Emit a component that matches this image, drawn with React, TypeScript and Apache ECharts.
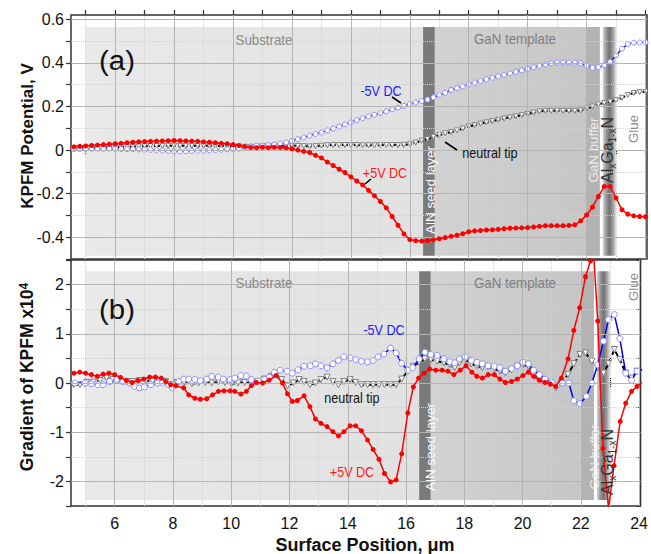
import React, { useEffect, useRef } from 'react';
import * as echarts from 'echarts';

const FONT = '"Liberation Sans", Arial, Helvetica, sans-serif';

// ---------- axes ----------
const xTicks = [5, 6, 7, 8, 9, 10, 11, 12, 13, 14, 15, 16, 17, 18, 19, 20, 21, 22, 23, 24];
const xLabels = [6, 8, 10, 12, 14, 16, 18, 20, 22, 24];
const xMinorGrid = [5, 7, 9, 11, 13, 15, 17, 19, 21, 23];
const yTopTicks = [-0.5, -0.4, -0.3, -0.2, -0.1, 0, 0.1, 0.2, 0.3, 0.4, 0.5, 0.6];
const yTopLabels = [-0.4, -0.2, 0, 0.2, 0.4, 0.6];
const yTopMinorGrid = [-0.3, -0.1, 0.1, 0.3, 0.5];
const yBotTicks = [-2.5, -2, -1.5, -1, -0.5, 0, 0.5, 1, 1.5, 2, 2.5];
const yBotLabels = [-2, -1, 0, 1, 2];
const yBotMinorGrid = [-1.5, -0.5, 0.5, 1.5];

// ---------- layers ----------
const layerStart = [5.0, 16.45, 16.85, 22.0, 22.55];
const layerEnd = [16.45, 16.85, 22.0, 22.45, 23.0];
const topBand = [-0.485, 0.565];
const botBand = [-2.38, 2.27];

// ---------- panel (a): KPFM potential ----------
const xTop = [4.6, 4.8, 5.0, 5.2, 5.4, 5.6, 5.8, 6.0, 6.2, 6.4, 6.6, 6.8, 7.0, 7.2, 7.4, 7.6, 7.8, 8.0, 8.2, 8.4, 8.6, 8.8, 9.0, 9.2, 9.4, 9.6, 9.8, 10.0, 10.2, 10.4, 10.6, 10.8, 11.0, 11.2, 11.4, 11.6, 11.8, 12.0, 12.2, 12.4, 12.6, 12.8, 13.0, 13.2, 13.4, 13.6, 13.8, 14.0, 14.2, 14.4, 14.6, 14.8, 15.0, 15.2, 15.4, 15.6, 15.8, 16.0, 16.2, 16.4, 16.6, 16.8, 17.0, 17.2, 17.4, 17.6, 17.8, 18.0, 18.2, 18.4, 18.6, 18.8, 19.0, 19.2, 19.4, 19.6, 19.8, 20.0, 20.2, 20.4, 20.6, 20.8, 21.0, 21.2, 21.4, 21.6, 21.8, 22.0, 22.2, 22.4, 22.6, 22.8, 23.0, 23.2, 23.4, 23.6, 23.8, 24.0];
const redTop = [0.015, 0.017, 0.019, 0.021, 0.023, 0.025, 0.027, 0.029, 0.031, 0.034, 0.036, 0.038, 0.039, 0.040, 0.041, 0.042, 0.043, 0.044, 0.043, 0.042, 0.041, 0.040, 0.038, 0.036, 0.034, 0.031, 0.029, 0.025, 0.021, 0.016, 0.012, 0.011, 0.013, 0.011, 0.013, 0.012, 0.010, 0.006, 0.0, -0.006, -0.011, -0.024, -0.036, -0.055, -0.071, -0.088, -0.103, -0.123, -0.142, -0.160, -0.185, -0.210, -0.236, -0.265, -0.305, -0.345, -0.385, -0.411, -0.416, -0.418, -0.416, -0.412, -0.407, -0.402, -0.396, -0.391, -0.384, -0.375, -0.371, -0.369, -0.367, -0.366, -0.364, -0.361, -0.359, -0.358, -0.357, -0.356, -0.353, -0.350, -0.347, -0.347, -0.347, -0.347, -0.346, -0.343, -0.325, -0.298, -0.262, -0.213, -0.167, -0.167, -0.220, -0.274, -0.294, -0.302, -0.305, -0.306];
const blueTop = [0.005, 0.005, 0.006, 0.006, 0.007, 0.007, 0.007, 0.006, 0.005, 0.004, 0.004, 0.003, 0.002, 0.001, 0.000, -0.002, -0.004, -0.006, -0.006, -0.005, -0.004, -0.003, -0.002, -0.001, 0.000, 0.002, 0.003, 0.005, 0.007, 0.011, 0.016, 0.020, 0.021, 0.023, 0.026, 0.030, 0.035, 0.042, 0.050, 0.058, 0.066, 0.074, 0.081, 0.090, 0.099, 0.108, 0.118, 0.127, 0.137, 0.146, 0.154, 0.162, 0.170, 0.178, 0.187, 0.195, 0.203, 0.211, 0.218, 0.225, 0.232, 0.242, 0.253, 0.263, 0.276, 0.284, 0.292, 0.302, 0.310, 0.317, 0.325, 0.332, 0.339, 0.345, 0.352, 0.359, 0.366, 0.373, 0.380, 0.387, 0.393, 0.398, 0.401, 0.402, 0.402, 0.401, 0.398, 0.387, 0.378, 0.380, 0.390, 0.405, 0.435, 0.465, 0.487, 0.493, 0.494, 0.494];
const blackTop = [0.008, 0.009, 0.010, 0.011, 0.011, 0.012, 0.012, 0.013, 0.014, 0.015, 0.016, 0.017, 0.018, 0.019, 0.019, 0.020, 0.020, 0.020, 0.020, 0.020, 0.020, 0.020, 0.020, 0.020, 0.019, 0.019, 0.018, 0.017, 0.016, 0.015, 0.015, 0.016, 0.018, 0.019, 0.020, 0.020, 0.020, 0.020, 0.019, 0.018, 0.017, 0.018, 0.020, 0.022, 0.023, 0.023, 0.023, 0.023, 0.023, 0.022, 0.022, 0.022, 0.023, 0.023, 0.023, 0.023, 0.024, 0.027, 0.034, 0.043, 0.051, 0.061, 0.069, 0.077, 0.083, 0.090, 0.099, 0.108, 0.114, 0.121, 0.127, 0.133, 0.139, 0.145, 0.150, 0.155, 0.160, 0.166, 0.172, 0.177, 0.180, 0.180, 0.180, 0.180, 0.180, 0.180, 0.182, 0.190, 0.200, 0.209, 0.216, 0.222, 0.229, 0.240, 0.253, 0.262, 0.266, 0.267];

// ---------- panel (b): gradient of KPFM ----------
const redBotX = [4.6, 4.8, 5.0, 5.2, 5.4, 5.6, 5.8, 6.0, 6.2, 6.4, 6.6, 6.8, 7.0, 7.2, 7.4, 7.6, 7.75, 7.92, 8.1, 8.37, 8.54, 8.75, 8.94, 9.16, 9.36, 9.56, 9.75, 9.96, 10.12, 10.33, 10.52, 10.69, 10.86, 11.08, 11.3, 11.54, 11.76, 11.93, 12.1, 12.27, 12.5, 12.7, 12.89, 13.08, 13.29, 13.49, 13.68, 13.87, 14.08, 14.27, 14.47, 14.68, 14.87, 15.07, 15.26, 15.47, 15.66, 15.85, 16.06, 16.25, 16.43, 16.62, 16.81, 17.02, 17.24, 17.44, 17.64, 17.86, 18.06, 18.26, 18.43, 18.62, 18.82, 19.03, 19.22, 19.41, 19.62, 19.82, 20.01, 20.2, 20.38, 20.58, 20.77, 20.95, 21.14, 21.33, 21.56, 21.76, 21.96, 22.16, 22.33, 22.42, 22.58, 22.76, 22.95, 23.14, 23.35, 23.54, 23.74, 23.93, 24.1];
const redBotY = [0.20, 0.22, 0.20, 0.17, 0.135, 0.18, 0.20, 0.17, 0.115, 0.05, 0.01, 0.05, 0.08, 0.12, 0.12, 0.10, 0.03, -0.035, -0.055, -0.10, -0.24, -0.31, -0.33, -0.32, -0.24, -0.17, -0.16, -0.16, -0.17, -0.225, -0.17, -0.055, 0.01, 0.0, 0.06, 0.15, 0.0, -0.22, -0.375, -0.355, -0.26, -0.48, -0.73, -0.82, -0.885, -0.99, -1.075, -0.99, -0.87, -0.87, -0.97, -1.16, -1.35, -1.55, -1.84, -2.01, -1.97, -1.44, -0.61, -0.08, 0.10, 0.20, 0.285, 0.26, 0.26, 0.24, 0.17, 0.26, 0.35, 0.22, 0.135, 0.10, 0.17, 0.17, 0.08, 0.01, 0.03, 0.08, 0.15, 0.22, 0.135, 0.055, 0.01, -0.02, -0.07, 0.10, 0.49, 1.07, 1.53, 2.16, 2.48, 2.8, 1.26, -1.33, -2.55, -1.68, -0.78, -0.41, -0.17, -0.07, 0.01];
const blueBotX = [4.64, 4.98, 5.2, 5.43, 5.6, 5.83, 6.06, 6.28, 6.51, 6.68, 6.85, 7.02, 7.24, 7.47, 7.64, 7.86, 7.98, 8.2, 8.37, 8.54, 8.75, 8.94, 9.16, 9.33, 9.56, 9.73, 9.96, 10.12, 10.33, 10.52, 10.69, 10.92, 11.14, 11.31, 11.48, 11.68, 11.91, 12.1, 12.29, 12.5, 12.72, 12.89, 13.08, 13.29, 13.49, 13.68, 13.87, 14.08, 14.27, 14.47, 14.68, 14.87, 15.04, 15.24, 15.47, 15.66, 15.85, 16.06, 16.23, 16.45, 16.65, 16.85, 17.07, 17.3, 17.5, 17.67, 17.83, 18.03, 18.24, 18.43, 18.62, 18.82, 19.03, 19.22, 19.41, 19.62, 19.82, 20.01, 20.2, 20.38, 20.58, 20.77, 21.0, 21.17, 21.37, 21.59, 21.76, 21.97, 22.19, 22.38, 22.58, 22.78, 22.95, 23.15, 23.34, 23.54, 23.74, 23.93, 24.1];
const blueBotY = [0.0, 0.0, -0.015, -0.035, -0.035, 0.03, 0.07, 0.03, 0.0, -0.07, -0.10, -0.08, -0.035, 0.0, 0.01, -0.035, -0.10, 0.03, 0.08, 0.08, 0.07, 0.05, 0.08, 0.135, 0.12, 0.08, 0.07, 0.10, 0.15, 0.14, 0.07, 0.04, 0.07, 0.12, 0.215, 0.26, 0.24, 0.20, 0.27, 0.34, 0.35, 0.39, 0.35, 0.31, 0.39, 0.46, 0.53, 0.51, 0.475, 0.44, 0.43, 0.455, 0.53, 0.59, 0.71, 0.61, 0.40, 0.26, 0.31, 0.49, 0.625, 0.58, 0.56, 0.49, 0.43, 0.41, 0.49, 0.53, 0.46, 0.42, 0.39, 0.35, 0.34, 0.31, 0.24, 0.29, 0.35, 0.42, 0.39, 0.26, 0.17, 0.08, 0.01, -0.055, 0.0, 0.0, -0.36, -0.42, -0.27, 0.0, 0.37, 0.85, 1.29, 1.39, 0.90, 0.20, 0.055, 0.24, 0.27];
const blackBotX = [4.59, 4.81, 5.04, 5.27, 5.5, 5.72, 5.94, 6.17, 6.4, 6.62, 6.85, 7.07, 7.3, 7.53, 7.75, 7.92, 8.14, 8.37, 8.65, 8.88, 9.11, 9.33, 9.56, 9.79, 10.01, 10.24, 10.46, 10.69, 10.92, 11.14, 11.37, 11.54, 11.73, 11.93, 12.13, 12.33, 12.5, 12.7, 12.89, 13.08, 13.29, 13.49, 13.68, 13.87, 14.08, 14.27, 14.47, 14.68, 14.87, 15.07, 15.26, 15.47, 15.66, 15.85, 16.06, 16.25, 16.45, 16.65, 16.85, 17.07, 17.3, 17.5, 17.67, 17.83, 18.03, 18.24, 18.43, 18.62, 18.82, 19.03, 19.22, 19.41, 19.62, 19.82, 20.01, 20.2, 20.38, 20.58, 20.77, 20.95, 21.14, 21.33, 21.56, 21.76, 21.97, 22.16, 22.38, 22.58, 22.78, 22.95, 23.15, 23.34, 23.54, 23.74, 23.93, 24.1];
const blackBotY = [-0.035, -0.035, 0.01, 0.02, 0.05, 0.10, 0.07, 0.05, 0.03, 0.03, 0.05, 0.05, 0.03, 0.02, 0.03, -0.035, 0.01, 0.0, -0.015, 0.0, 0.01, 0.0, 0.03, 0.01, -0.015, 0.0, 0.01, 0.0, 0.02, 0.08, 0.135, 0.17, 0.07, -0.055, 0.0, 0.07, 0.03, -0.035, 0.0, 0.07, 0.12, 0.03, -0.035, 0.03, 0.07, 0.01, -0.035, -0.035, -0.035, -0.035, -0.035, -0.035, -0.035, 0.08, 0.24, 0.34, 0.42, 0.49, 0.475, 0.44, 0.41, 0.37, 0.31, 0.41, 0.475, 0.39, 0.35, 0.31, 0.325, 0.29, 0.24, 0.20, 0.27, 0.34, 0.37, 0.34, 0.17, 0.10, 0.03, -0.015, -0.10, 0.0, 0.17, 0.39, 0.58, 0.61, 0.44, 0.31, 0.20, 0.39, 0.68, 0.475, 0.20, 0.10, 0.24, 0.27];

const zip = (xs: number[], ys: number[]) => xs.slice(0, Math.min(xs.length, ys.length)).map((x, i) => [x, ys[i]]);

const lin = (stops: [number, string][]) => ({
  type: 'linear', x: 0, y: 0, x2: 1, y2: 0,
  colorStops: stops.map(([offset, color]) => ({ offset, color })),
});

const layerColors = () => [
  lin([[0, '#e9e9e9'], [1, '#e1e1e1']]),
  '#7a7a7a',
  lin([[0, '#d2d2d2'], [1, '#c6c6c6']]),
  '#b3b3b3',
  lin([[0, '#d8d8d8'], [0.25, '#9a9a9a'], [0.5, '#727272'], [0.75, '#9a9a9a'], [1, '#e2e2e2']]),
];

const areas = (band: number[]) => {
  const cols = layerColors();
  return layerStart.map((s, i) => [
    { xAxis: s, yAxis: band[0], itemStyle: { color: cols[i], opacity: 1, borderWidth: 0 } },
    { xAxis: layerEnd[i], yAxis: band[1] },
  ]);
};

const MAJOR = { color: '#b4b4b4', width: 1, type: 'solid' };
const MINOR = { color: '#d2d2d2', width: 1, type: 'dotted' };

const gridLines = (yMajor: number[], yMinor: number[]) => [
  ...xMinorGrid.map((v) => ({ xAxis: v, lineStyle: MINOR })),
  ...yMinor.map((v) => ({ yAxis: v, lineStyle: MINOR })),
  ...xLabels.map((v) => ({ xAxis: v, lineStyle: MAJOR })),
  ...yMajor.map((v) => ({ yAxis: v, lineStyle: MAJOR })),
];

const tickStyle = { show: true, inside: false, length: 5, lineStyle: { color: '#333', width: 1.2 } };

const xAxisBase = (gridIndex: number, position: string, labels: boolean) => ({
  type: 'value', gridIndex, position, min: 4.5, max: 24.05,
  axisLine: { show: false },
  axisTick: { ...tickStyle, customValues: xTicks },
  axisLabel: labels
    ? { show: true, customValues: xLabels, fontSize: 16, color: '#111', fontFamily: FONT, margin: 9 }
    : { show: false },
  splitLine: { show: false },
});

const fmtTop = (v: number) => (Math.abs(v) < 1e-9 ? '0' : v.toFixed(1));

const seriesFor = (xi: number, yi: number, red: number[][], blue: number[][], black: number[][], big: boolean) => [
  { type: 'line', xAxisIndex: xi, yAxisIndex: yi, data: [], z: 1, silent: true,
    markArea: { silent: true, data: areas(xi === 0 ? topBand : botBand) } },
  { type: 'line', xAxisIndex: xi, yAxisIndex: yi, data: [], z: 2, silent: true,
    markLine: { silent: true, symbol: ['none', 'none'], label: { show: false },
      data: xi === 0 ? gridLines(yTopLabels, yTopMinorGrid) : gridLines(yBotLabels, yBotMinorGrid) } },
  { type: 'line', xAxisIndex: xi, yAxisIndex: yi, data: black, z: 3,
    symbol: 'triangle', symbolRotate: 180, symbolSize: big ? 6 : 5,
    itemStyle: { color: '#ffffff', borderColor: '#808080', borderWidth: 1 },
    lineStyle: { color: '#000000', width: 2, type: big ? [5, 3] : [2, 2] } },
  { type: 'line', xAxisIndex: xi, yAxisIndex: yi, data: blue, z: 4,
    symbol: 'circle', symbolSize: big ? 6 : 5,
    itemStyle: { color: '#ffffff', borderColor: '#8c8cff', borderWidth: 1 },
    lineStyle: { color: '#0000ee', width: big ? 1.5 : 1.2 } },
  { type: 'line', xAxisIndex: xi, yAxisIndex: yi, data: red, z: 5,
    symbol: 'circle', symbolSize: 5,
    itemStyle: { color: '#ff0000' },
    lineStyle: { color: '#ff0000', width: 1.5 } },
];

const T = (x: number, y: number, text: string, size: number, fill: string, opts: any = {}) => ({
  type: 'text', x, y, z: 100, rotation: opts.rot ? Math.PI / 2 : 0,
  scaleX: opts.sx || 1, scaleY: 1,
  style: {
    text, fill, font: `${opts.bold ? 'bold ' : ''}${size}px ${FONT}`,
    align: 'center', verticalAlign: 'middle', textAlign: 'center', textVerticalAlign: 'middle',
    rich: opts.rich,
  },
});

const L = (x1: number, y1: number, x2: number, y2: number) => ({
  type: 'line', z: 100, shape: { x1, y1, x2, y2 }, style: { stroke: '#000', lineWidth: 1.6 },
});

const alganRich = {
  a: { fontSize: 16, fontFamily: FONT, fill: '#333', lineHeight: 20 },
  s: { fontSize: 10, fontFamily: FONT, fill: '#333', verticalAlign: 'bottom', lineHeight: 20 },
};

const option: any = {
  animation: false,
  backgroundColor: '#ffffff',
  grid: [
    { left: 71, top: 15, width: 576, height: 244, show: true, borderColor: '#333', borderWidth: 1.5, backgroundColor: 'transparent' },
    { left: 71, top: 260, width: 576, height: 246, show: true, borderColor: '#333', borderWidth: 1.5, backgroundColor: 'transparent' },
  ],
  xAxis: [
    xAxisBase(0, 'bottom', false),
    xAxisBase(0, 'top', false),
    xAxisBase(1, 'bottom', true),
    xAxisBase(1, 'top', false),
  ],
  yAxis: [
    { type: 'value', gridIndex: 0, min: -0.5, max: 0.62, axisLine: { show: false },
      axisTick: { ...tickStyle, customValues: yTopTicks },
      axisLabel: { customValues: yTopLabels, formatter: fmtTop, fontSize: 16, color: '#111', fontFamily: FONT, margin: 7 },
      splitLine: { show: false } },
    { type: 'value', gridIndex: 1, min: -2.5, max: 2.5, axisLine: { show: false },
      axisTick: { ...tickStyle, customValues: yBotTicks },
      axisLabel: { customValues: yBotLabels, formatter: (v: number) => String(v), fontSize: 16, color: '#111', fontFamily: FONT, margin: 7 },
      splitLine: { show: false } },
    { type: 'value', gridIndex: 1, position: 'right', min: -2.5, max: 2.5, axisLine: { show: false },
      axisTick: { show: true, inside: true, length: 4, lineStyle: { color: '#333' }, customValues: yBotTicks },
      axisLabel: { show: false }, splitLine: { show: false } },
  ],
  series: [
    ...seriesFor(0, 0, zip(xTop, redTop), zip(xTop, blueTop), zip(xTop, blackTop), false),
    ...seriesFor(2, 1, zip(redBotX, redBotY), zip(blueBotX, blueBotY), zip(blackBotX, blackBotY), true),
  ],
  graphic: [
    // panel labels
    T(117, 60, '(a)', 28, '#111', { sx: 1.05 }),
    T(117, 309, '(b)', 28, '#111', { sx: 1.05 }),
    // layer names, panel a
    T(264, 40, 'Substrate', 14, '#8a8a8a', { sx: 0.95 }),
    T(515, 39, 'GaN template', 14, '#7e7e7e', { sx: 0.95 }),
    T(430, 190, 'AlN seed layer', 13.5, '#ffffff', { rot: true }),
    T(593, 150, 'GaN buffer', 13.3, '#eeeeee', { rot: true }),
    T(607, 150, '{a|Al}{s|x}{a|Ga}{s|1-x}{a|N}', 16, '#333', { rot: true, rich: alganRich }),
    T(633, 129, 'Glue', 13.3, '#8a8a8a', { rot: true }),
    // layer names, panel b
    T(264, 283, 'Substrate', 14, '#8a8a8a', { sx: 0.95 }),
    T(515, 283, 'GaN template', 14, '#7e7e7e', { sx: 0.95 }),
    T(430, 447, 'AlN seed layer', 13.5, '#ffffff', { rot: true }),
    T(594, 457, 'GaN buffer', 13.3, '#eeeeee', { rot: true }),
    T(607, 462, '{a|Al}{s|x}{a|Ga}{s|1-x}{a|N}', 16, '#333', { rot: true, rich: alganRich }),
    T(633, 287, 'Glue', 13.3, '#8a8a8a', { rot: true }),
    // series annotations, panel a
    T(381, 91, '-5V DC', 14, '#1a1aff', { sx: 0.9 }),
    L(392, 97, 401, 103),
    T(490, 153, 'neutral tip', 14, '#111', { sx: 0.9 }),
    L(445, 142, 457, 150),
    T(385, 173, '+5V DC', 14, '#ff1a1a', { sx: 0.9 }),
    L(365, 184, 371, 179),
    // series annotations, panel b
    T(384, 330, '-5V DC', 14, '#1a1aff', { sx: 0.9 }),
    T(352, 398, 'neutral tip', 14, '#111', { sx: 0.9 }),
    T(352, 472, '+5V DC', 14, '#ff1a1a', { sx: 0.9 }),
    // axis titles
    T(27, 136, 'KPFM Potential, V', 17, '#111', { rot: true, bold: true }),
    T(27, 377, '{a|Gradient of KPFM x10}{s|4}', 17.5, '#111', {
      rot: true, bold: true,
      rich: {
        a: { fontSize: 17.5, fontWeight: 'bold', fontFamily: FONT, fill: '#111' },
        s: { fontSize: 12, fontWeight: 'bold', fontFamily: FONT, fill: '#111', verticalAlign: 'top' },
      },
    }),
    T(365, 545, 'Surface Position, \u03bcm', 18, '#111', { bold: true }),
  ],
};

export default function App() {
  const ref = useRef<HTMLDivElement>(null);
  useEffect(() => {
    const chart = echarts.init(ref.current as HTMLDivElement, undefined, { renderer: 'svg' });
    chart.setOption(option);
    return () => chart.dispose();
  }, []);
  return <div ref={ref} style={{ position: 'fixed', left: 0, top: 0, width: 651, height: 554 }} />;
}
